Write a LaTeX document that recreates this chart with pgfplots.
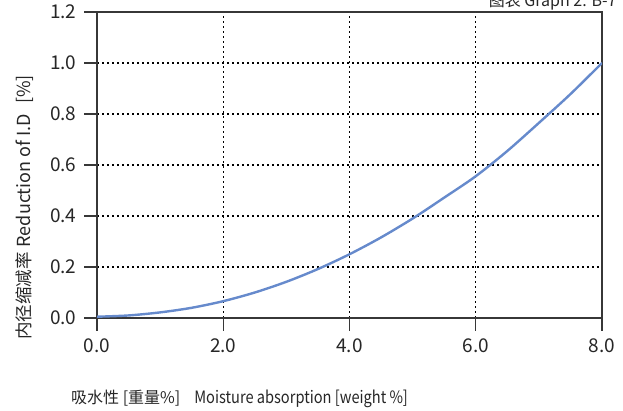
\documentclass[border=0pt]{standalone}
\usepackage{fontspec}
\setmainfont{Noto Sans CJK SC}
\usepackage{graphicx}
\usepackage{pgfplots}
\pgfplotsset{compat=1.18}
\definecolor{curve}{RGB}{102,138,204}
\definecolor{spine}{RGB}{55,55,55}
\begin{document}
\begin{tikzpicture}[x=1pt,y=1pt]
\useasboundingbox (0,0) rectangle (623,411);
\begin{axis}[
  at={(97pt,93pt)}, anchor=south west,
  scale only axis, width=505pt, height=306pt,
  xmin=0, xmax=8, ymin=0, ymax=1.2,
  xtick={0,2,4,6,8},
  ytick={0,0.2,0.4,0.6,0.8,1.0,1.2},
  xtick pos=bottom, ytick pos=left,
  tick align=outside,
  major tick length=13pt,
  every tick/.style={spine, line width=1.2pt},
  axis line style={spine, line width=1.2pt},
  grid=major,
  major grid style={black, line width=1.1pt, dash pattern=on 2pt off 3pt},
  /pgf/number format/assume math mode=true,
  /pgf/number format/.cd, fixed, fixed zerofill, precision=1,
  /pgfplots/.cd,
  tick label style={font=\fontsize{19}{19}\selectfont, text=black!85},
  xticklabel style={yshift=-4pt},
  yticklabel style={xshift=-4pt},
]
\addplot[curve, line width=2.4pt, smooth] coordinates {
(0,0.005) (0.5,0.01) (1,0.022) (1.5,0.04) (2,0.066) (2.5,0.1) (3,0.142)
(3.5,0.192) (4,0.25) (4.5,0.316) (5,0.39) (5.5,0.472) (6,0.556)
(6.5,0.655) (7,0.765) (7.5,0.878) (8,1.0)
};
\end{axis}
\node[anchor=base east, font=\fontsize{16}{16}\selectfont, text=black!85] at (620,404) {图表 Graph 2. B-7};
\node[anchor=base west, text=black!85, inner sep=0pt] at (71,7)
  {{\fontsize{16}{16}\selectfont 吸水性 [重量\%]}\hspace{14pt}{\fontsize{17}{17}\selectfont\scalebox{0.86}[1]{Moisture absorption [weight \%]}}};
\node[rotate=90, anchor=base west, text=black!85, inner sep=0pt] at (30,71)
  {{\fontsize{17.5}{18}\selectfont 内径缩减率}\hspace{5pt}{\fontsize{18}{18}\selectfont Reduction of I.D\hspace{10pt}[\%]}};
\end{tikzpicture}
\end{document}
